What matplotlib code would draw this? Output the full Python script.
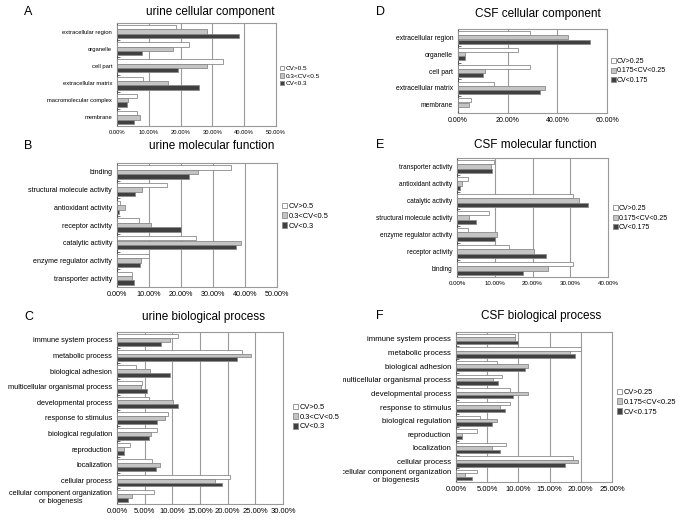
import numpy as np
import matplotlib
matplotlib.use("Agg")
import matplotlib.pyplot as plt
from matplotlib.patches import Patch
from matplotlib.ticker import FuncFormatter, FixedLocator
from matplotlib.transforms import Bbox, TransformedBbox

plt.rcParams['font.family'] = ['Liberation Sans', 'DejaVu Sans']

W, H = 686, 521

# ---- data (percent of proteins), categories listed top to bottom ----
urine_cc_cats = ["extracellular region", "organelle", "cell part",
                 "extracellular matrix", "macromolecular complex", "membrane"]
urine_cc_high = [18.7, 22.7, 33.3, 8.2, 6.3, 6.3]
urine_cc_mid = [28.2, 17.5, 28.2, 15.9, 3.6, 7.1]
urine_cc_low = [38.3, 7.8, 19.2, 25.8, 3.2, 5.3]

urine_mf_cats = ["binding", "structural molecule activity", "antioxidant activity",
                 "receptor activity", "catalytic activity",
                 "enzyme regulator activity", "transporter activity"]
urine_mf_high = [35.5, 15.5, 0.8, 7.0, 24.7, 10.1, 4.6]
urine_mf_mid = [25.3, 7.9, 2.4, 10.7, 38.9, 7.4, 4.6]
urine_mf_low = [22.6, 5.7, 0.7, 19.9, 37.1, 7.2, 5.4]

bp_cats = ["immune system process", "metabolic process", "biological adhesion",
           "multicellular organismal process", "developmental process",
           "response to stimulus", "biological regulation", "reproduction",
           "localization", "cellular process",
           "cellular component organization\nor biogenesis"]
urine_bp_high = [11.0, 22.5, 3.4, 4.6, 5.8, 9.3, 7.2, 2.4, 6.3, 20.4, 6.7]
urine_bp_mid = [9.5, 24.2, 6.0, 4.4, 10.1, 8.6, 6.1, 1.2, 7.7, 17.8, 2.7]
urine_bp_low = [8.0, 21.7, 9.6, 5.5, 11.1, 7.3, 5.8, 1.2, 7.0, 18.9, 1.9]

csf_cc_cats = ["extracellular region", "organelle", "cell part",
               "extracellular matrix", "membrane"]
csf_cc_high = [28.8, 24.0, 28.8, 14.4, 5.1]
csf_cc_mid = [44.1, 3.0, 10.8, 35.0, 4.6]
csf_cc_low = [53.3, 3.0, 10.1, 33.1, 0.0]

csf_mf_cats = ["transporter activity", "antioxidant activity", "catalytic activity",
               "structural molecule activity", "enzyme regulator activity",
               "receptor activity", "binding"]
csf_mf_high = [9.8, 2.9, 30.7, 8.4, 2.9, 13.9, 30.7]
csf_mf_mid = [8.9, 1.3, 32.4, 3.2, 10.7, 20.3, 24.0]
csf_mf_low = [9.2, 0.9, 34.6, 5.0, 10.0, 23.5, 17.6]

csf_bp_high = [9.4, 20.1, 6.6, 7.3, 8.6, 8.6, 3.9, 3.3, 8.0, 18.8, 3.3]
csf_bp_mid = [9.5, 18.2, 11.6, 5.9, 11.6, 7.1, 6.5, 0.9, 5.7, 19.6, 1.5]
csf_bp_low = [9.9, 19.0, 11.1, 6.7, 9.1, 7.9, 5.8, 0.9, 7.0, 17.5, 2.5]

urine_labels = ["CV>0.5", "0.3<CV<0.5", "CV<0.3"]
csf_labels = ["CV>0.25", "0.175<CV<0.25", "CV<0.175"]

colors = ["white", "#c4c4c4", "#404040"]
edge = "#8a8a8a"


def px_rect(l, t, r, b):
    return [l / W, 1 - b / H, (r - l) / W, (b - t) / H]


def panel(fig, rect, cats, series, labels, xmax, step, lab_fs, tick_fs,
          leg_xy, leg_fs, letter, letter_xy, title, title_xy, clip_x=None):
    ax = fig.add_axes(px_rect(*rect))
    n = len(cats)
    y = np.arange(n)
    h = 0.25
    for k, vals in enumerate(series):
        ax.barh(y + (k - 1) * h, vals, height=h, color=colors[k],
                edgecolor=edge, linewidth=0.6, label=labels[k], zorder=3)
    ax.set_ylim(n - 0.5, -0.5)
    ax.set_xlim(0, xmax)
    ticks = np.arange(0, xmax + step / 2, step)
    ax.set_xticks(ticks)
    ax.xaxis.set_major_formatter(FuncFormatter(lambda v, p: "%.2f%%" % v))
    for t in ticks[1:-1]:
        ax.axvline(t, color="#9a9a9a", linewidth=0.8, zorder=1)
    ax.set_yticks(y)
    ax.set_yticklabels(cats, fontsize=lab_fs, multialignment="center")
    ax.yaxis.set_minor_locator(FixedLocator(np.arange(n - 1) + 0.5))
    ax.tick_params(axis="y", which="major", length=0, pad=3.5)
    ax.tick_params(axis="y", which="minor", length=2, direction="in",
                   color="#555555", width=0.6)
    ax.tick_params(axis="x", length=0, labelsize=tick_fs, pad=3)
    for s in ax.spines.values():
        s.set_color("#999999")
        s.set_linewidth(0.8)
    ax.spines["left"].set_color("#555555")
    if clip_x is not None:
        cb = TransformedBbox(Bbox([[clip_x / W, 0], [1, 1]]), fig.transFigure)
        for lbl in ax.get_yticklabels():
            lbl.set_clip_box(cb)
            lbl.set_clip_on(True)
    handles = [Patch(facecolor=colors[k], edgecolor=edge, linewidth=0.6,
                     label=labels[k]) for k in range(3)]
    fig.legend(handles=handles, loc="center left",
               bbox_to_anchor=(leg_xy[0] / W, 1 - leg_xy[1] / H),
               frameon=False, fontsize=leg_fs, handlelength=0.7,
               handleheight=0.7, handletextpad=0.15, labelspacing=0.35,
               borderpad=0, borderaxespad=0)
    fig.text(letter_xy[0] / W, 1 - letter_xy[1] / H, letter, fontsize=9,
             ha="center", va="center")
    fig.text(title_xy[0] / W, 1 - title_xy[1] / H, title, fontsize=8.5,
             ha="center", va="center")
    return ax


fig = plt.figure(figsize=(W / 100, H / 100), dpi=100)

panel(fig, (117, 23, 276, 126), urine_cc_cats,
      [urine_cc_high, urine_cc_mid, urine_cc_low], urine_labels, 50, 10,
      4.2, 4.2, (280, 76), 4.6, "A", (28, 12), "urine cellular component", (210, 12))
panel(fig, (117, 163, 277, 287), urine_mf_cats,
      [urine_mf_high, urine_mf_mid, urine_mf_low], urine_labels, 50, 10,
      5.1, 5.2, (282, 216), 5.4, "B", (28, 146), "urine molecular function", (212, 146))
panel(fig, (117, 332, 283, 504), bp_cats,
      [urine_bp_high, urine_bp_mid, urine_bp_low], urine_labels, 30, 5,
      5.3, 5.5, (293, 417), 5.4, "C", (29, 317), "urine biological process", (204, 317))
panel(fig, (458, 29, 607, 113), csf_cc_cats,
      [csf_cc_high, csf_cc_mid, csf_cc_low], csf_labels, 60, 20,
      4.9, 5.0, (611, 71), 5.0, "D", (380, 12), "CSF cellular component", (538, 14))
panel(fig, (457, 158, 608, 277), csf_mf_cats,
      [csf_mf_high, csf_mf_mid, csf_mf_low], csf_labels, 40, 10,
      4.7, 4.4, (613, 218), 5.0, "E", (380, 145), "CSF molecular function", (535, 145))
panel(fig, (456, 332, 612, 482), bp_cats,
      [csf_bp_high, csf_bp_mid, csf_bp_low], csf_labels, 25, 5,
      5.6, 5.5, (617, 402), 5.4, "F", (380, 316), "CSF biological process", (541, 316),
      clip_x=343)

fig.savefig("out.png", dpi=100)
